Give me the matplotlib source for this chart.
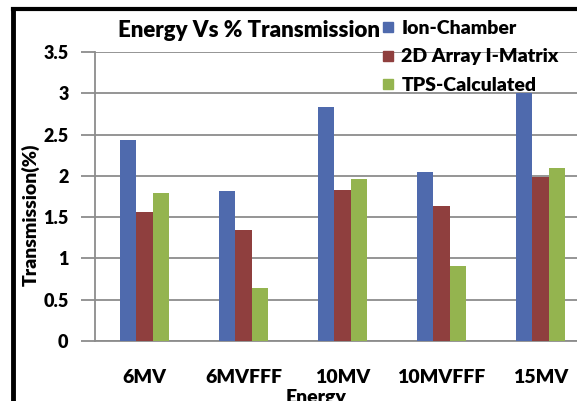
import numpy as np
import matplotlib.pyplot as plt
import matplotlib.lines as mlines

plt.rcParams['font.family'] = ['Lato', 'DejaVu Sans']
plt.rcParams['font.weight'] = 'heavy'
plt.rcParams['axes.labelweight'] = 'heavy'
WT = 'heavy'

# transmission (%) per beam energy
energies = ["6MV", "6MVFFF", "10MV", "10MVFFF", "15MV"]
ion_chamber = [2.44, 1.82, 2.84, 2.05, 3.00]
array_2d = [1.56, 1.34, 1.83, 1.64, 1.99]
tps_calc = [1.79, 0.64, 1.96, 0.91, 2.09]

series = [("Ion-Chamber", ion_chamber, "#4f6aad"),
          ("2D Array I-Matrix", array_2d, "#8f3f3e"),
          ("TPS-Calculated", tps_calc, "#94b44f")]

fig = plt.figure(figsize=(5.77, 4.01), dpi=100)
ax = fig.add_axes([0.1646, 0.1496, 0.858, 0.7207])

x = np.arange(len(energies))
w = 0.166
handles = []
for i, (name, vals, col) in enumerate(series):
    ax.bar(x + (i - 1) * w, vals, w, color=col, zorder=3)
    handles.append(mlines.Line2D([], [], marker='s', ls='none', color=col,
                                 markersize=7, label=name))

ax.set_xlim(-0.5, 4.5)
ax.set_ylim(0, 3.5)
ax.set_yticks(np.arange(0, 3.51, 0.5))
ax.set_yticklabels(["0", "0.5", "1", "1.5", "2", "2.5", "3", "3.5"],
                   fontweight=WT, fontsize=13)
ax.set_xticks(x)
ax.set_xticklabels(energies, fontweight=WT, fontsize=14)
ax.grid(axis='y', color='#8c8c8c', lw=1.3, zorder=0)
for s in ['top', 'right']:
    ax.spines[s].set_visible(False)
for s in ['left', 'bottom']:
    ax.spines[s].set_color('#8c8c8c')
    ax.spines[s].set_linewidth(1.3)
ax.tick_params(axis='y', length=10, width=1.3, color='#8c8c8c', pad=9)
ax.tick_params(axis='x', length=0, pad=20)

ax.set_ylabel("Transmission(%)", fontsize=14, fontweight=WT)
ax.yaxis.label.set_va('center')
ax.yaxis.set_label_coords(-0.129, 0.436)
ax.set_xlabel("Energy", fontsize=14, fontweight=WT)
ax.xaxis.label.set_va('top')
ax.xaxis.set_label_coords(0.446, -0.166)

fig.text(0.432, 0.925, "Energy Vs % Transmission", ha='center', va='center',
         fontsize=16, fontweight=WT)

fig.legend(handles=handles, loc='upper left', bbox_to_anchor=(0.645, 0.97),
           frameon=False, prop={'size': 14, 'weight': WT},
           handletextpad=0.3, handlelength=0.8, labelspacing=0.6,
           borderaxespad=0)

# chart border
fig.add_artist(mlines.Line2D([0.0225, 0.0225], [0, 0.977], color='black', lw=3.5,
                             transform=fig.transFigure, solid_capstyle='projecting'))
fig.add_artist(mlines.Line2D([0.0225, 1.0], [0.977, 0.977], color='black', lw=3,
                             transform=fig.transFigure, solid_capstyle='projecting'))

fig.savefig("out.png", dpi=100)
